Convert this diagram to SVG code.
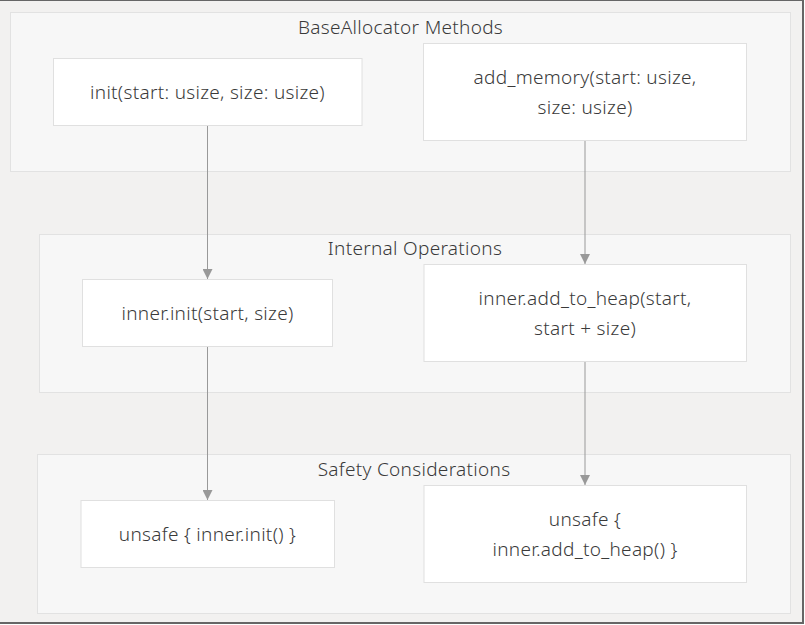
<svg xmlns="http://www.w3.org/2000/svg" width="805" height="625" viewBox="0 0 805 625">
<defs>
<style>
.bg{fill:#f2f1f0;stroke:#666;stroke-width:2}
.cluster rect{fill:#f7f7f7;stroke:#e2e2e2;stroke-width:1}
.node rect{fill:#ffffff;stroke:#e0e0e0;stroke-width:1}
text{font-family:"Noto Sans","Open Sans","DejaVu Sans",sans-serif;font-size:19px;font-weight:300;letter-spacing:0.3px;fill:#3a3a3a;text-anchor:middle;dominant-baseline:central}
.edge{stroke:#999;stroke-width:1;fill:none;marker-end:url(#arr)}
</style>
<marker id="arr" viewBox="0 0 10 10" refX="10" refY="5" markerWidth="10" markerHeight="10" markerUnits="userSpaceOnUse" orient="auto">
<path d="M0,0 L10,5 L0,10 Z" fill="#999"/>
</marker>
</defs>
<rect class="bg" x="-5" y="0" width="808" height="623"/>
<g id="cluster-base" class="cluster">
<rect x="10.5" y="12.5" width="780" height="159"/>
<text x="400.5" y="27">BaseAllocator Methods</text>
</g>
<g id="cluster-internal" class="cluster">
<rect x="39.5" y="234.5" width="751" height="158"/>
<text x="415" y="248">Internal Operations</text>
</g>
<g id="cluster-safety" class="cluster">
<rect x="37.5" y="454.5" width="753" height="159"/>
<text x="414" y="469">Safety Considerations</text>
</g>
<g id="connectors">
<line class="edge" x1="207.5" y1="126" x2="207.5" y2="279"/>
<line class="edge" x1="585" y1="141" x2="585" y2="264"/>
<line class="edge" x1="207.5" y1="347" x2="207.5" y2="500"/>
<line class="edge" x1="585" y1="362" x2="585" y2="485"/>
</g>
<g id="node-init" class="node">
<rect x="53.5" y="58.5" width="308.5" height="67"/>
<text x="207.5" y="92">init(start: usize, size: usize)</text>
</g>
<g id="node-add-memory" class="node">
<rect x="423.5" y="43.5" width="323" height="97"/>
<text x="585" y="77">add_memory(start: usize,</text>
<text x="585" y="107">size: usize)</text>
</g>
<g id="node-inner-init" class="node">
<rect x="82.5" y="279.5" width="250" height="67"/>
<text x="207.5" y="313">inner.init(start, size)</text>
</g>
<g id="node-inner-add" class="node">
<rect x="424" y="264.5" width="322.5" height="97"/>
<text x="585" y="298">inner.add_to_heap(start,</text>
<text x="585" y="328">start + size)</text>
</g>
<g id="node-unsafe-init" class="node">
<rect x="81" y="500.5" width="253.5" height="67"/>
<text x="207.5" y="534">unsafe { inner.init() }</text>
</g>
<g id="node-unsafe-add" class="node">
<rect x="424" y="485.5" width="322.5" height="97"/>
<text x="585" y="519">unsafe {</text>
<text x="585" y="549">inner.add_to_heap() }</text>
</g>
</svg>
